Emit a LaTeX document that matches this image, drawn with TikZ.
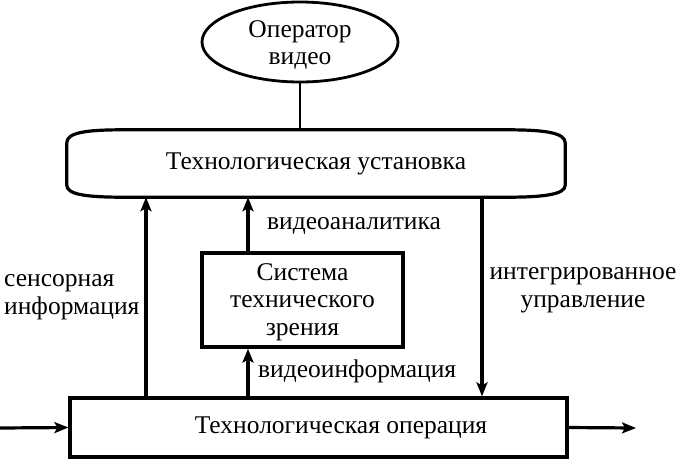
\documentclass[tikz,border=0pt]{standalone}
\usepackage{fontspec}
\setmainfont{Liberation Serif}
\usetikzlibrary{arrows.meta,shapes.geometric,calc}
\begin{document}
\begin{tikzpicture}[x=1pt,y=-1pt,
  lbl/.style={font=\fontsize{25.5}{27.5}\selectfont, inner sep=0pt},
  box/.style={draw, line width=3.2pt, rectangle, inner sep=0pt},
  arr/.style={line width=3.2pt, -{Stealth[length=14pt,width=11pt,inset=3pt]}},
  thinline/.style={line width=2.6pt},
]
\useasboundingbox (0,0) rectangle (676,461);

% nodes
\node[draw, ellipse, line width=2.8pt, minimum width=196pt, minimum height=80pt,
      inner sep=0pt] (op) at (300,42) {};
\node[lbl, align=center] (optxt) at (300,45) {Оператор\\видео};
\node[minimum width=498pt, minimum height=67pt, inner sep=0pt, lbl] (ust) at (316,163.5)
      {Технологическая установка};
\node[box, minimum width=201pt, minimum height=94pt] (stz) at (302.5,300) {};
\node[lbl, align=center] (stztxt) at (302.5,302) {Система\\технического\\зрения};
\node[box, minimum width=497pt, minimum height=59pt] (bot) at (318.5,427.5) {};
\node[lbl] (bottxt) at (341,428) {Технологическая операция};

% outline of the top shape
\draw[line width=3.2pt]
  ($(ust.north west)+(56,0)$) -- ($(ust.north east)+(-58,0)$)
  .. controls +(38,0) and +(0,-10) .. ($(ust.north east)+(0,13)$)
  -- ($(ust.south east)+(0,-12)$)
  .. controls +(0,9) and +(38,0) .. ($(ust.south east)+(-58,0)$)
  -- ($(ust.south west)+(56,0)$)
  .. controls +(-38,0) and +(0,9) .. ($(ust.south west)+(0,-12)$)
  -- ($(ust.north west)+(0,13)$)
  .. controls +(0,-10) and +(-38,0) .. cycle;

% x positions of vertical connectors
\coordinate (xs) at (146,0);
\coordinate (xv) at (248,0);
\coordinate (xi) at (482,0);
\coordinate (in) at (0,428);
\coordinate (out) at (636,428);

% connectors
\draw[thinline] (op.south) -- (ust.north -| op.south);
\draw[arr] (bot.north -| xs) -- (ust.south -| xs);
\draw[arr] (stz.north -| xv) -- (ust.south -| xv);
\draw[arr] (bot.north -| xv) -- (stz.south -| xv);
\draw[arr] (ust.south -| xi) -- (bot.north -| xi);
\draw[arr] (in) -- (bot.west);
\draw[arr] (bot.east) -- (out);

% labels
\node[lbl, align=left, anchor=west] (l1) at (4,297) {сенсорная\\информация};
\node[lbl, anchor=west] (l2) at (267,226) {видеоаналитика};
\node[lbl, anchor=west] (l3) at (258,371) {видеоинформация};
\node[lbl, align=center] (l4) at (583,290) {интегрированное\\управление};
\end{tikzpicture}
\end{document}
